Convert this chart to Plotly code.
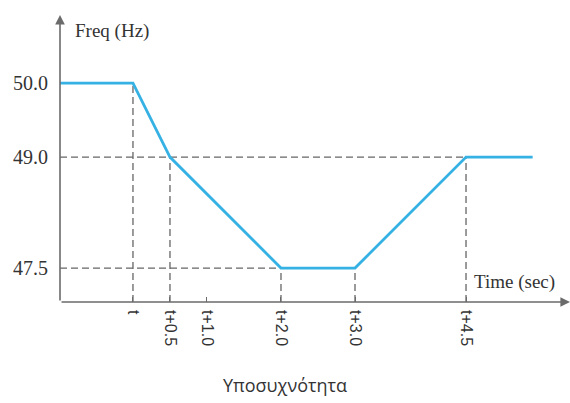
import plotly.graph_objects as go

# Data: time offsets (seconds after t) and frequency (Hz)
time_offsets = [-0.99, 0.0, 0.5, 2.0, 3.0, 4.5, 5.4]
freq_hz = [50.0, 50.0, 49.0, 47.5, 47.5, 49.0, 49.0]

# Tick labels
x_tick_vals = [0.0, 0.5, 1.0, 2.0, 3.0, 4.5]
x_tick_text = ["t", "t+0.5", "t+1.0", "t+2.0", "t+3.0", "t+4.5"]
y_tick_vals = [47.5, 49.0, 50.0]
y_tick_text = ["47.5", "49.0", "50.0"]

# Breakpoints that get dashed guide lines down to the time axis
guide_idx = [1, 2, 3, 4, 5]

x_min, x_max = -0.986, 5.905
y_min, y_max = 47.041, 50.92

AXIS = "#6b6b6b"
DASH = "#666666"
LINE = "#35b1e3"
TXT = "#333333"

fig = go.Figure()

shapes = []
for i in guide_idx:
    shapes.append(dict(type="line", xref="x", yref="y",
                       x0=time_offsets[i], x1=time_offsets[i],
                       y0=y_min, y1=freq_hz[i],
                       line=dict(color=DASH, width=1.3, dash="7px,4px"), layer="below"))
for lvl in [49.0, 47.5]:
    xs = [time_offsets[i] for i in guide_idx if freq_hz[i] == lvl]
    shapes.append(dict(type="line", xref="x", yref="y",
                       x0=x_min, x1=max(xs), y0=lvl, y1=lvl,
                       line=dict(color=DASH, width=1.3, dash="7px,4px"), layer="below"))

fig.add_trace(go.Scatter(x=time_offsets, y=freq_hz, mode="lines",
                         line=dict(color=LINE, width=2.8),
                         hoverinfo="skip", showlegend=False, cliponaxis=False))

annotations = [
    dict(x=x_min, y=y_max, ax=x_min, ay=y_min, xref="x", yref="y",
         axref="x", ayref="y", showarrow=True, arrowhead=2, arrowsize=1.2,
         arrowwidth=1.6, arrowcolor=AXIS, text=""),
    dict(x=x_max, y=y_min, ax=x_min, ay=y_min, xref="x", yref="y",
         axref="x", ayref="y", showarrow=True, arrowhead=2, arrowsize=1.2,
         arrowwidth=1.6, arrowcolor=AXIS, text=""),
    dict(x=x_min, y=y_max, xref="x", yref="y", text="Freq (Hz)",
         showarrow=False, xanchor="left", yanchor="top", xshift=13, yshift=-3,
         font=dict(family="Liberation Serif", size=19, color=TXT)),
    dict(x=4.61, y=y_min, xref="x", yref="y", text="Time (sec)",
         showarrow=False, xanchor="left", yanchor="bottom", xshift=-2, yshift=7,
         font=dict(family="Liberation Serif", size=19, color=TXT)),
    dict(x=0.5, y=0, xref="paper", yref="paper", text="Υποσυχνότητα",
         showarrow=False, xanchor="center", yanchor="middle", yshift=-83, xshift=-30,
         font=dict(family="Open Sans", size=18, color=TXT)),
]

fig.update_layout(
    width=570, height=403,
    margin=dict(l=60, r=0, t=15, b=101),
    paper_bgcolor="white", plot_bgcolor="white",
    shapes=shapes, annotations=annotations,
    xaxis=dict(range=[x_min, x_max], showgrid=False, zeroline=False,
               showline=False, tickvals=x_tick_vals, ticktext=x_tick_text,
               tickangle=90, ticks="inside", ticklen=5, tickcolor=AXIS,
               ticklabelstandoff=7,
               tickfont=dict(family="Liberation Sans", size=16, color=TXT)),
    yaxis=dict(range=[y_min, y_max], showgrid=False, zeroline=False,
               showline=False, tickvals=y_tick_vals, ticktext=y_tick_text,
               ticks="", ticklabelstandoff=11,
               tickfont=dict(family="Liberation Serif", size=20, color=TXT)),
)

fig.write_html("out.html", config={"displayModeBar": False},
               post_script="document.body.style.margin='0';")
